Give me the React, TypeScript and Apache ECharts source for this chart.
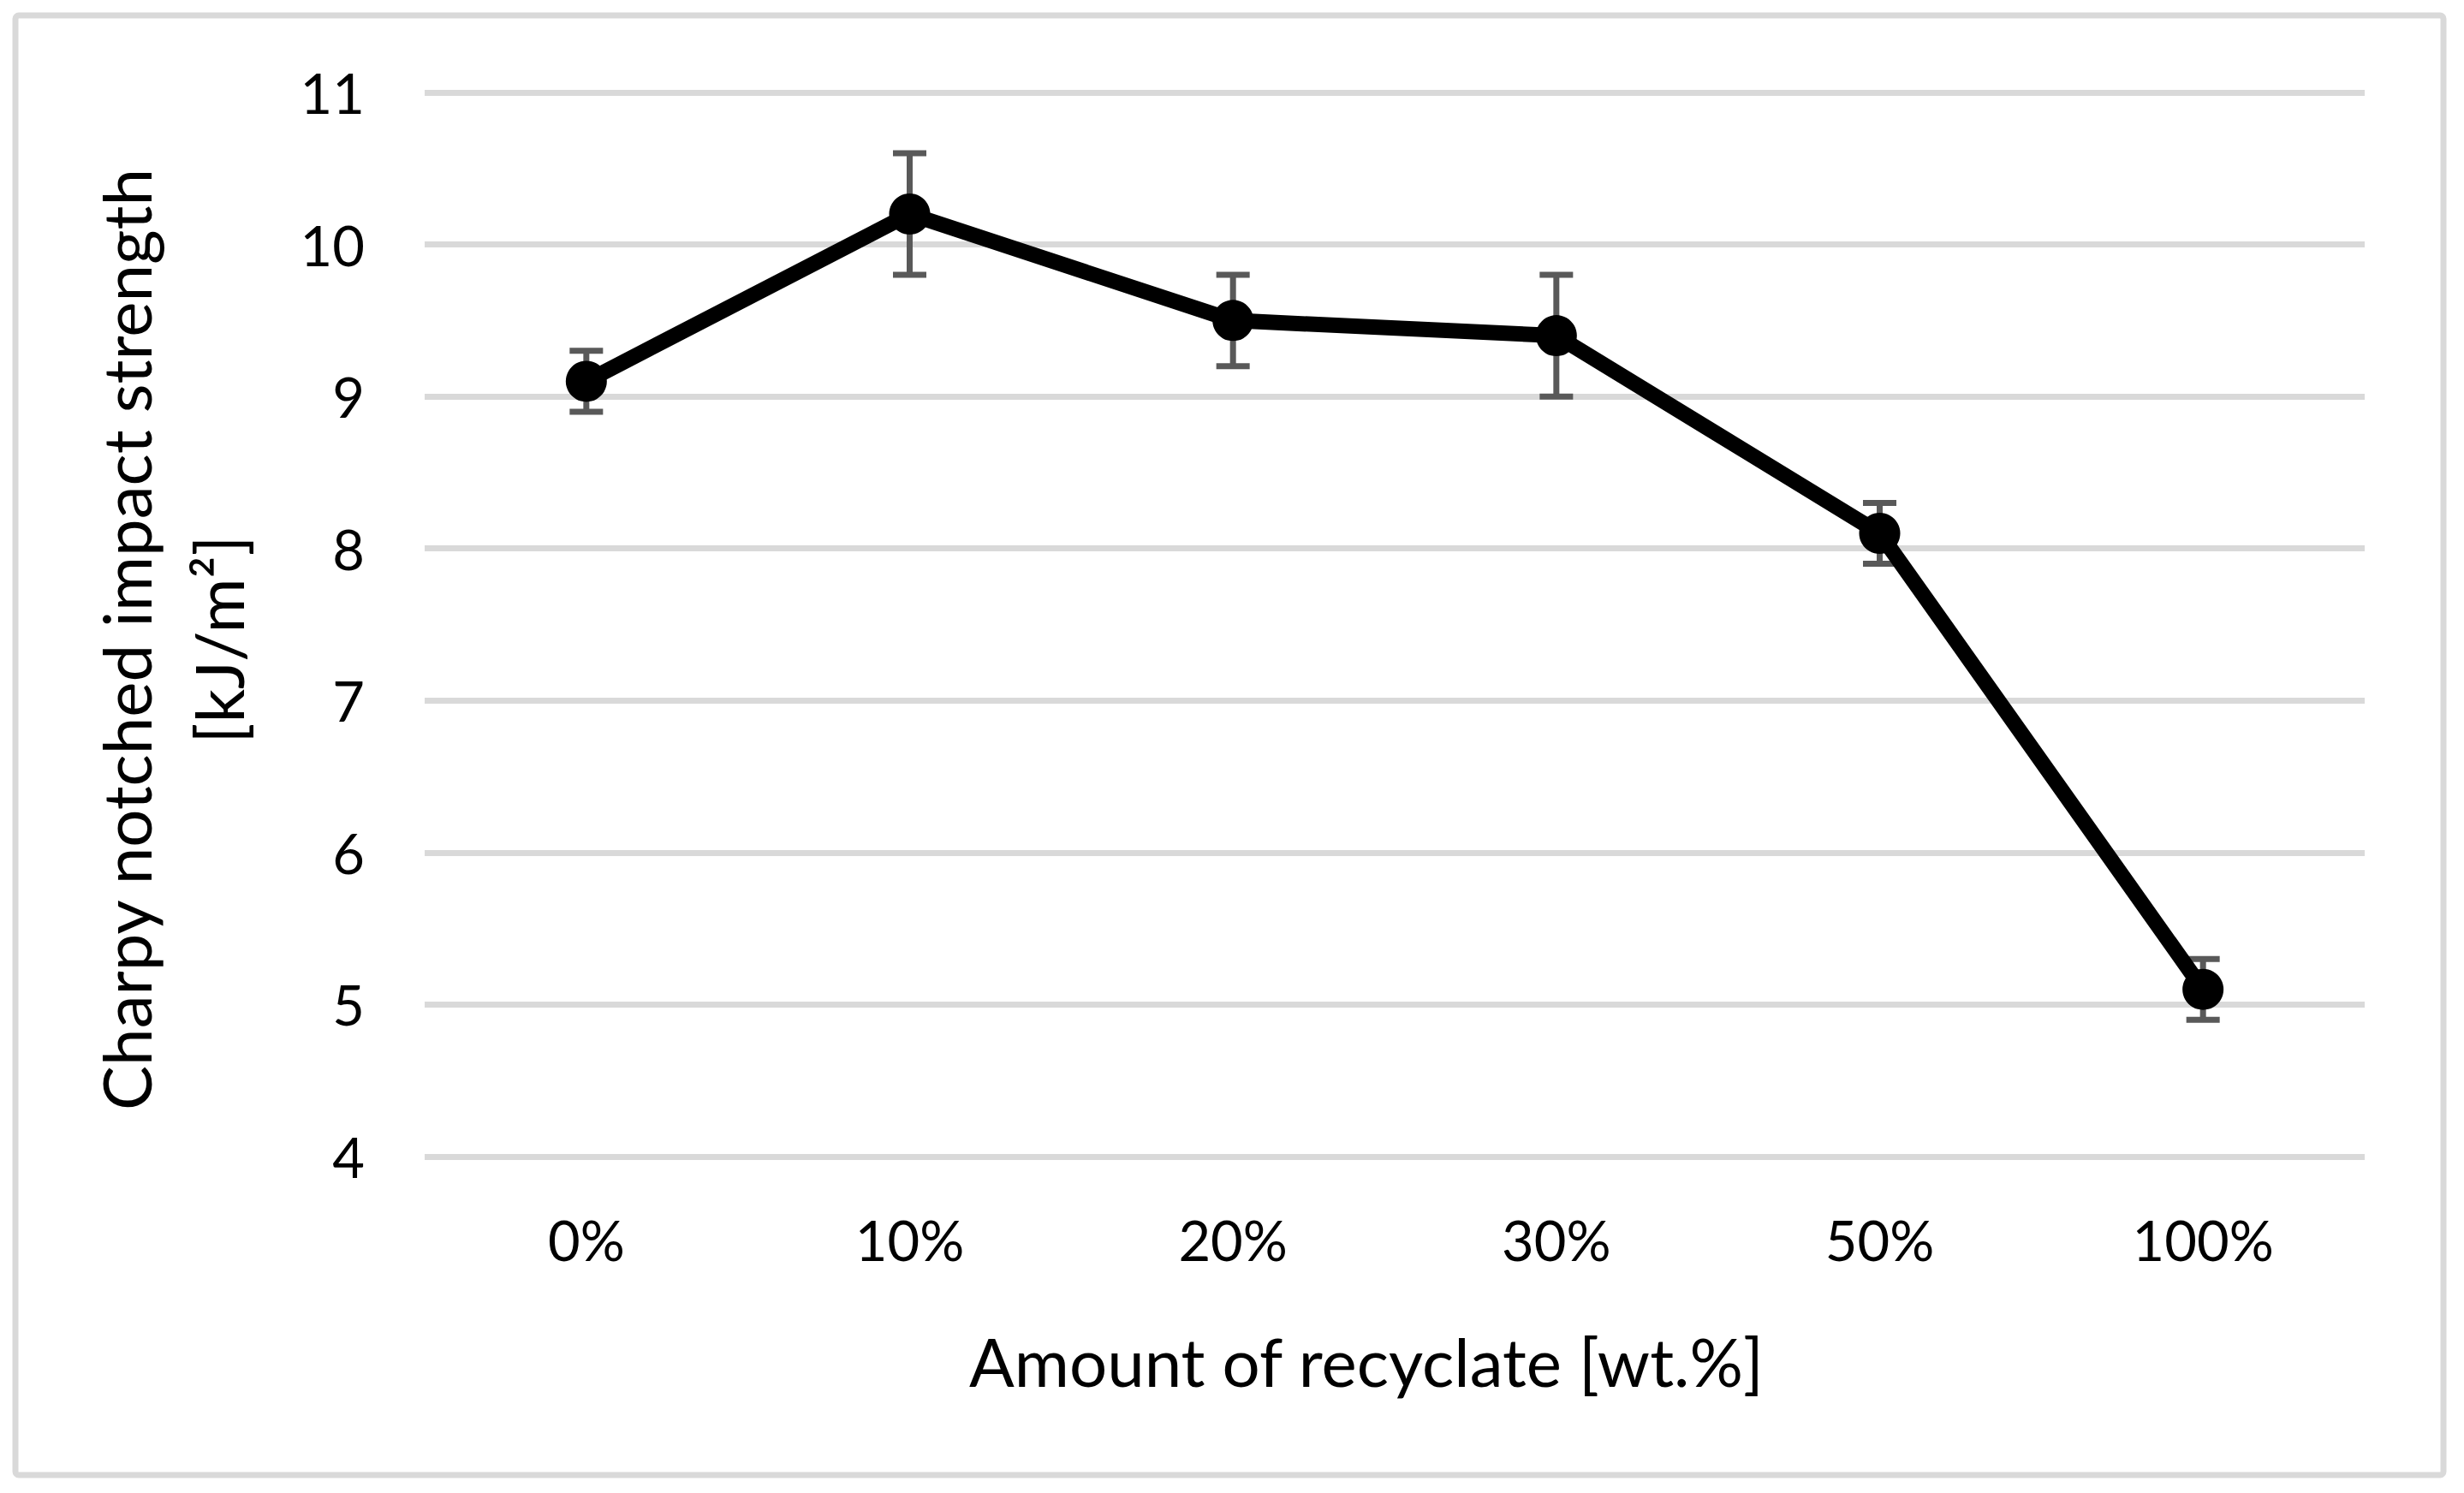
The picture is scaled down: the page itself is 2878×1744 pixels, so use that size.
import React, { useEffect, useRef } from "react";
import * as echarts from "echarts";

const categories = ["0%", "10%", "20%", "30%", "50%", "100%"];
const strength = [9.1, 10.2, 9.5, 9.4, 8.1, 5.1];
const errLow = [8.9, 9.8, 9.2, 9.0, 7.9, 4.9];
const errHigh = [9.3, 10.6, 9.8, 9.8, 8.3, 5.3];
const yTitleLines = ["Charpy notched impact strength", "[kJ/m²]"];
const xTitle = "Amount of recyclate [wt.%]";

const FONT = "Lato, 'Noto Sans', sans-serif";

export default function App() {
  const ref = useRef<HTMLDivElement>(null);
  useEffect(() => {
    document.body.style.margin = "0";
    if (!ref.current) return;
    const chart = echarts.init(ref.current, null, { renderer: "svg" });
    const errData = categories.map((_, i) => [i, errLow[i], errHigh[i]]);
    chart.setOption({
      animation: false,
      backgroundColor: "#ffffff",
      grid: { left: 496, right: 116, top: 108, bottom: 393 },
      xAxis: {
        type: "category",
        data: categories,
        boundaryGap: true,
        axisLine: { show: false },
        axisTick: { show: false },
        axisLabel: { color: "#000", fontFamily: FONT, fontSize: 65, margin: 64 },
      },
      yAxis: {
        type: "value",
        min: 4,
        max: 11,
        interval: 1,
        axisLine: { show: false },
        axisTick: { show: false },
        axisLabel: { color: "#000", fontFamily: FONT, fontSize: 65, margin: 70 },
        splitLine: { lineStyle: { color: "#d9d9d9", width: 7 } },
      },
      graphic: [
        {
          type: "rect",
          shape: { x: 18, y: 18, width: 2836, height: 1705, r: 4 },
          style: { fill: "none", stroke: "#d9d9d9", lineWidth: 7 },
          z: -1,
        },
        {
          type: "text",
          x: 147,
          y: 747,
          rotation: Math.PI / 2,
          style: {
            text: yTitleLines[0],
            font: `78px ${FONT}`,
            fill: "#000",
            textAlign: "center",
            textVerticalAlign: "middle",
          },
        },
        {
          type: "text",
          x: 255,
          y: 747,
          rotation: Math.PI / 2,
          style: {
            text: yTitleLines[1],
            font: `78px ${FONT}`,
            fill: "#000",
            textAlign: "center",
            textVerticalAlign: "middle",
          },
        },
        {
          type: "text",
          x: 1596,
          y: 1590,
          style: {
            text: xTitle,
            font: `78px ${FONT}`,
            fill: "#000",
            textAlign: "center",
            textVerticalAlign: "middle",
          },
        },
      ],
      series: [
        {
          type: "custom",
          z: 1,
          data: errData,
          renderItem: (params: any, api: any) => {
            const x = api.value(0);
            const lo = api.coord([x, api.value(1)]);
            const hi = api.coord([x, api.value(2)]);
            const half = 19.5;
            const st = { stroke: "#595959", lineWidth: 7 };
            return {
              type: "group",
              children: [
                { type: "line", shape: { x1: lo[0], y1: lo[1], x2: hi[0], y2: hi[1] }, style: st },
                { type: "line", shape: { x1: lo[0] - half, y1: lo[1], x2: lo[0] + half, y2: lo[1] }, style: st },
                { type: "line", shape: { x1: hi[0] - half, y1: hi[1], x2: hi[0] + half, y2: hi[1] }, style: st },
              ],
            };
          },
        },
        {
          type: "line",
          z: 5,
          data: strength,
          symbol: "circle",
          symbolSize: 48,
          itemStyle: { color: "#000" },
          lineStyle: { color: "#000", width: 18 },
        },
      ],
    });
    return () => chart.dispose();
  }, []);
  return <div ref={ref} style={{ width: 2878, height: 1744 }} />;
}
